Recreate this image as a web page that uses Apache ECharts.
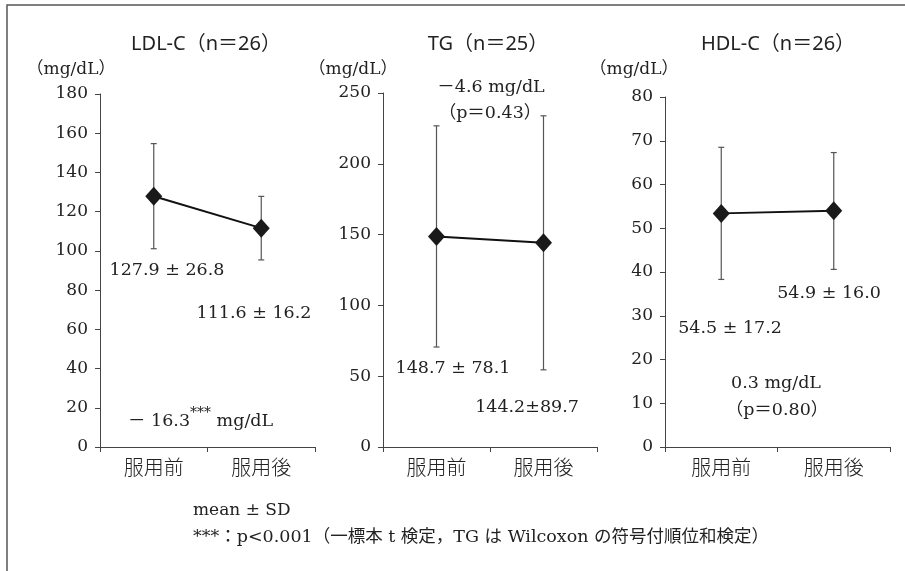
<!DOCTYPE html>
<html><head><meta charset="utf-8">
<script src="https://cdn.jsdelivr.net/npm/echarts@6/dist/echarts.min.js"></script>
<style>html,body{margin:0;padding:0;background:#fff}#c{width:905px;height:571px}</style>
</head><body><div id="c"></div>
<script>
const categories = ['服用前', '服用後'];
const ldlMean = [127.9, 111.6];
const ldlLow = [101.1, 95.4];
const ldlHigh = [154.7, 127.8];
const tgMean = [148.7, 144.2];
const tgLow = [70.6, 54.5];
const tgHigh = [226.8, 233.9];
const hdlMean = [53.4, 54.0];
const hdlLow = [38.3, 40.6];
const hdlHigh = [68.5, 67.3];
const titles = ['LDL‑C（n＝26）', 'TG（n＝25）', 'HDL‑C（n＝26）'];
const yMax = [180, 250, 80];
const yInterval = [20, 50, 10];

const SERIF = "'DejaVu Serif','Liberation Serif','Noto Sans CJK JP',serif";
const SANS = "'Noto Sans','Noto Sans CJK JP',sans-serif";
const CJK = "'Noto Sans CJK JP',sans-serif";
const TXT = '#222';

const grids = [
  {left: 100, width: 215, top: 94, height: 353},
  {left: 383, width: 214, top: 93, height: 354},
  {left: 665, width: 225, top: 97, height: 350}
];

const xAxes = grids.map((g, i) => ({
  type: 'category', gridIndex: i, data: categories, boundaryGap: true,
  axisLine: {lineStyle: {color: '#444', width: 1}},
  axisTick: {show: true, length: 5, lineStyle: {color: '#444'}},
  axisLabel: {color: TXT, fontFamily: CJK, fontWeight: 300, fontSize: 20, margin: 10}
}));
const yAxes = grids.map((g, i) => ({
  type: 'value', gridIndex: i, min: 0, max: yMax[i], interval: yInterval[i],
  splitLine: {show: false},
  axisLine: {show: true, lineStyle: {color: '#444', width: 1}},
  axisTick: {show: true, length: 5, lineStyle: {color: '#444'}},
  axisLabel: {color: TXT, fontFamily: SERIF, fontSize: 17, margin: 12}
}));

function errSeries(idx, low, high) {
  return {
    type: 'custom', xAxisIndex: idx, yAxisIndex: idx, z: 1,
    data: low.map((l, j) => [j, l, high[j]]),
    renderItem: function (params, api) {
      const x = api.value(0);
      const p1 = api.coord([x, api.value(1)]);
      const p2 = api.coord([x, api.value(2)]);
      const cw = 3;
      const st = {stroke: '#555', lineWidth: 1.2};
      return {type: 'group', children: [
        {type: 'line', shape: {x1: p1[0], y1: p1[1], x2: p2[0], y2: p2[1]}, style: st},
        {type: 'line', shape: {x1: p1[0] - cw, y1: p1[1], x2: p1[0] + cw, y2: p1[1]}, style: st},
        {type: 'line', shape: {x1: p2[0] - cw, y1: p2[1], x2: p2[0] + cw, y2: p2[1]}, style: st}
      ]};
    }
  };
}
function meanSeries(idx, mean) {
  return {
    type: 'line', xAxisIndex: idx, yAxisIndex: idx, data: mean, z: 3,
    symbol: 'diamond', symbolSize: [17, 19], showSymbol: true,
    lineStyle: {color: '#111', width: 2}, itemStyle: {color: '#1a1a1a'},
    animation: false, silent: true
  };
}

function t(x, y, text, opts) {
  return {type: 'text', x: x, y: y, style: Object.assign({
    text: text, fill: TXT, font: '17.5px ' + SERIF, textAlign: 'left', textVerticalAlign: 'middle'
  }, opts || {})};
}

const graphics = [
  {type: 'rect', shape: {x: 7, y: 5, width: 920, height: 600}, style: {fill: 'none', stroke: '#555', lineWidth: 1.5}, silent: true},
  t(206, 44, titles[0], {font: '20px ' + SANS, textAlign: 'center'}),
  t(488, 44, titles[1], {font: '20px ' + SANS, textAlign: 'center'}),
  t(778, 44, titles[2], {font: '20px ' + SANS, textAlign: 'center'}),
  t(71, 70, '（mg/dL）', {font: '17px ' + SERIF, textAlign: 'center'}),
  t(353, 70, '（mg/dL）', {font: '17px ' + SERIF, textAlign: 'center'}),
  t(634, 70, '（mg/dL）', {font: '17px ' + SERIF, textAlign: 'center'}),
  t(167, 270, '127.9 ± 26.8', {textAlign: 'center'}),
  t(254, 313, '111.6 ± 16.2', {textAlign: 'center'}),
  {type: 'text', x: 128, y: 418, style: {
    text: '{a|－ 16.3}{s|***}{a| mg/dL}', textVerticalAlign: 'middle',
    rich: {a: {fill: TXT, fontFamily: SERIF, fontSize: 17.5, lineHeight: 24, verticalAlign: 'bottom'},
           s: {fill: TXT, fontFamily: SERIF, fontSize: 14, lineHeight: 24, verticalAlign: 'top', padding: [0, 0, 2, 0]}}
  }},
  t(491, 87, '－4.6 mg/dL', {textAlign: 'center'}),
  t(490, 113, '（p＝0.43）', {textAlign: 'center'}),
  t(453, 368, '148.7 ± 78.1', {textAlign: 'center'}),
  t(527, 407, '144.2±89.7', {textAlign: 'center'}),
  t(829, 293, '54.9 ± 16.0', {textAlign: 'center'}),
  t(730, 328, '54.5 ± 17.2', {textAlign: 'center'}),
  t(776, 383, '0.3 mg/dL', {textAlign: 'center'}),
  t(777, 410, '（p＝0.80）', {textAlign: 'center'}),
  t(193, 511, 'mean ± SD', {font: '17px ' + SERIF}),
  t(193, 537, '***：p<0.001（一標本 t 検定，TG は Wilcoxon の符号付順位和検定）', {font: '17.5px ' + SERIF})
];

const chart = echarts.init(document.getElementById('c'), null, {renderer: 'canvas'});
chart.setOption({
  backgroundColor: '#fff',
  animation: false,
  grid: grids,
  xAxis: xAxes,
  yAxis: yAxes,
  series: [
    errSeries(0, ldlLow, ldlHigh), meanSeries(0, ldlMean),
    errSeries(1, tgLow, tgHigh), meanSeries(1, tgMean),
    errSeries(2, hdlLow, hdlHigh), meanSeries(2, hdlMean)
  ],
  graphic: graphics
});
</script></body></html>
